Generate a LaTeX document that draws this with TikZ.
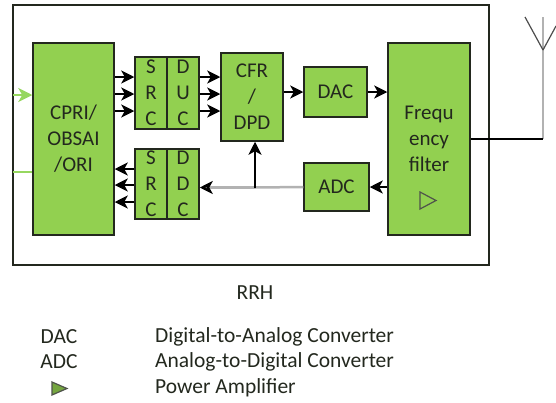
\documentclass[tikz,border=0pt]{standalone}
\usepackage{fontspec}
\setmainfont{Carlito}
\usepackage{tikz}
\usetikzlibrary{arrows.meta}
\definecolor{boxgreen}{RGB}{146,208,80}
\definecolor{linkgreen}{RGB}{150,215,95}
\definecolor{inkdark}{RGB}{35,40,30}
\tikzset{
  block/.style={draw=inkdark,line width=1.5pt,fill=boxgreen,inner sep=0pt,align=center,text=inkdark,font=\fontsize{21}{26}\selectfont},
  legend/.style={inner sep=0pt,text=inkdark,font=\fontsize{21.5}{24}\selectfont},
  sig/.style={-{Stealth[length=13pt,width=13pt,inset=3.5pt]},line width=1.5pt,color=black},
  grayline/.style={line width=2.5pt,color=black!30}
}
\begin{document}
\begin{tikzpicture}[x=1pt,y=-1pt]
   \useasboundingbox (0,0) rectangle (556,402);
   \draw (251,135) node[draw=inkdark,line width=1.5pt,minimum width=476pt,minimum height=260pt,inner sep=0pt] (rrh) {};

   \draw (73.5,139) node[block,minimum width=81pt,minimum height=192pt] (cpri) {CPRI/\\OBSAI\\/ORI};
   \draw (151,93) node[block,minimum width=32pt,minimum height=72pt] (srcu) {S\\R\\C};
   \draw (183,93) node[block,minimum width=32pt,minimum height=72pt] (duc) {D\\U\\C};
   \draw (151,184) node[block,minimum width=32pt,minimum height=70pt] (srcd) {S\\R\\C};
   \draw (183,184) node[block,minimum width=32pt,minimum height=70pt] (ddc) {D\\D\\C};
   \draw (252,97) node[block,minimum width=62pt,minimum height=88pt] (cfr) {CFR\\/\\DPD};
   \draw (335.5,92) node[block,minimum width=63pt,minimum height=50pt] (dac) {DAC};
   \draw (336.5,187) node[block,minimum width=65pt,minimum height=48pt] (adc) {ADC};
   \draw (429,139) node[block,minimum width=82pt,minimum height=192pt] (freq) {Frequ\\ency\\filter};

   \draw (255,187.5) coordinate (tap);
   \draw (543,139) coordinate (feed);
   \draw (543,50) coordinate (mast);
   \draw (543,17) coordinate (top);
   \draw (525,17) coordinate (dipl);
   \draw (556,26) coordinate (dipr);
   \draw (13,95) coordinate (inlink);
   \draw (13,172) coordinate (outlink);

   \draw (420,192) coordinate (ampa);
   \draw (436,200.5) coordinate (ampb);
   \draw (420,209) coordinate (ampc);
   \draw[draw=inkdark!80,line width=1.2pt] (ampa) -- (ampb) -- (ampc) -- cycle;

   \path[-{Stealth[length=14pt,width=14pt,inset=4pt]},color=linkgreen,line width=1.5pt] (inlink) edge (inlink -| cpri.west);
   \path[-,color=linkgreen,line width=1.5pt] (outlink) edge (outlink -| cpri.west);

   \foreach \y in {77,94,111} {
      \path[sig] (cpri.east |- 0,\y) edge (srcu.west |- 0,\y);
      \path[sig] (duc.east |- 0,\y) edge (cfr.west |- 0,\y);
   }
   \foreach \y in {169,185,202} {
      \path[sig] (srcd.west |- 0,\y) edge (cpri.east |- 0,\y);
   }
   \path[sig] (cfr.east |- dac.west) edge (dac.west);
   \path[sig] (dac.east) edge (freq.west |- dac.east);
   \path[sig] (freq.west |- adc.east) edge (adc.east);
   \path[grayline] (adc.west) edge (tap);
   \path[grayline,-{Stealth[length=13pt,width=13pt,inset=3.5pt,color=black]}] (tap) edge (ddc.east |- tap);
   \path[sig] (tap) edge (cfr.south -| tap);

   \path[grayline] (feed) edge (top);
   \path[-,line width=1.3pt,color=black] (freq.east |- feed) edge (feed);
   \path[-,line width=1.2pt,color=black!70] (dipl) edge (mast);
   \path[-,line width=1.2pt,color=black!70] (dipr) edge (mast);

   \draw (255,293) node[legend] (title) {RRH};
   \draw (59,337) node[legend] (dacname) {DAC};
   \draw (59,362) node[legend] (adcname) {ADC};
   \draw (155,337) node[legend,anchor=west] (dacdesc) {Digital-to-Analog Converter};
   \draw (155,362) node[legend,anchor=west] (adcdesc) {Analog-to-Digital Converter};
   \draw (155,388) node[legend,anchor=west] (ampdesc) {Power Amplifier};

   \draw (52,382) coordinate (keya);
   \draw (67,388.5) coordinate (keyb);
   \draw (52,395) coordinate (keyc);
   \draw[draw=inkdark!80,fill=boxgreen!80!black,line width=1.2pt] (keya) -- (keyb) -- (keyc) -- cycle;
\end{tikzpicture}
\end{document}
